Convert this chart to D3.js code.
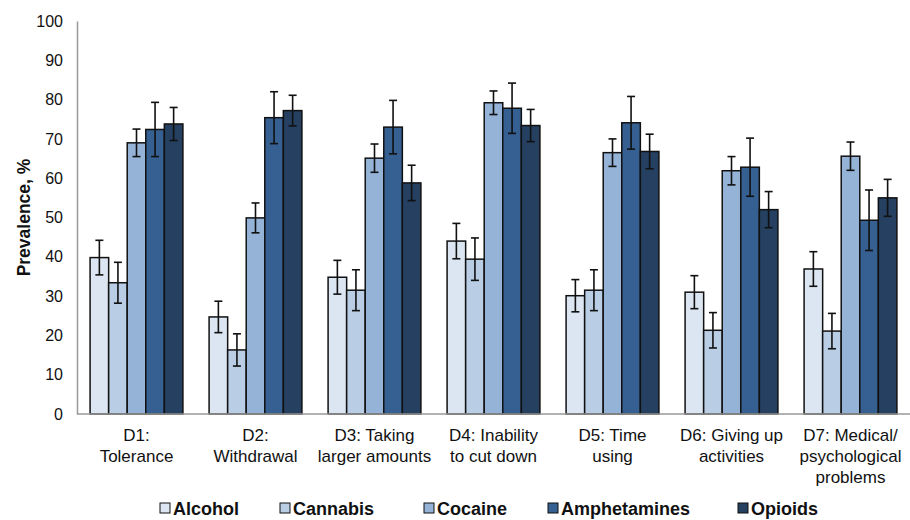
<!DOCTYPE html>
<html>
<head>
<meta charset="utf-8">
<script src="https://cdn.jsdelivr.net/npm/d3@7"></script>
<style>
	body { margin: 0; background: #fff; }
	svg text { font-family: "Liberation Sans", Arial, sans-serif; fill: #111; }
</style>
</head>
<body>
<svg id="chart" width="910" height="520"></svg>
<script>
// data
const categories = [
	['D1:', 'Tolerance'],
	['D2:', 'Withdrawal'],
	['D3: Taking', 'larger amounts'],
	['D4: Inability', 'to cut down'],
	['D5: Time', 'using'],
	['D6: Giving up', 'activities'],
	['D7: Medical/', 'psychological', 'problems']
];
const substances = ['Alcohol', 'Cannabis', 'Cocaine', 'Amphetamines', 'Opioids'];

// prevalence per substance, one value per criterion D1..D7
const alcohol      = [39.8, 24.7, 34.8, 44.0, 30.1, 31.0, 36.9];
const cannabis     = [33.4, 16.3, 31.5, 39.4, 31.5, 21.3, 21.1];
const cocaine      = [69.0, 49.9, 65.1, 79.2, 66.5, 61.9, 65.6];
const amphetamines = [72.4, 75.4, 73.0, 77.8, 74.1, 62.8, 49.3];
const opioids      = [73.8, 77.2, 58.8, 73.4, 66.8, 52.0, 55.0];

// half-width of the error bars
const alcoholErr      = [4.4, 4.0, 4.3, 4.5, 4.1, 4.2, 4.4];
const cannabisErr     = [5.2, 4.1, 5.2, 5.4, 5.2, 4.5, 4.5];
const cocaineErr      = [3.5, 3.8, 3.6, 3.0, 3.5, 3.6, 3.6];
const amphetaminesErr = [6.9, 6.6, 6.8, 6.4, 6.7, 7.4, 7.7];
const opioidsErr      = [4.2, 3.9, 4.5, 4.1, 4.4, 4.6, 4.7];

const yTicks = [0, 10, 20, 30, 40, 50, 60, 70, 80, 90, 100];

// configs
const COLORS = ['#dce6f2', '#b9cde5', '#95b3d7', '#376092', '#254061'];
const LEFT = 77, RIGHT = 910, TOP = 21, BOTTOM = 414;
const CAP_W = 8;
const LABEL_SIZE = '17px';

const values = [alcohol, cannabis, cocaine, amphetamines, opioids];
const errors = [alcoholErr, cannabisErr, cocaineErr, amphetaminesErr, opioidsErr];

const rows = [];
categories.forEach((c, ci) => {
	substances.forEach((s, si) => {
		rows.push({ cat: ci, sub: s, si: si, value: values[si][ci], err: errors[si][ci] });
	});
});

const svg = d3.select('#chart');

const x0 = d3.scaleBand()
	.domain(d3.range(categories.length))
	.range([LEFT, RIGHT])
	.paddingInner(0.22)
	.paddingOuter(0.11);

const x1 = d3.scaleBand()
	.domain(substances)
	.range([0, x0.bandwidth()]);

const y = d3.scaleLinear().domain([0, 100]).range([BOTTOM, TOP]);

// y axis
const yAxis = svg.append('g')
	.attr('transform', `translate(${LEFT},0)`)
	.call(d3.axisLeft(y).tickValues(yTicks).tickSize(0).tickPadding(14));
yAxis.select('.domain').attr('stroke', '#999').attr('stroke-width', 1.5);
yAxis.selectAll('text')
	.style('font-size', '16px')
	.style('font-family', '"Liberation Sans", Arial, sans-serif')
	.attr('fill', '#111');

svg.append('text')
	.attr('transform', `translate(30,${(TOP + BOTTOM) / 2}) rotate(-90)`)
	.attr('text-anchor', 'middle')
	.style('font-size', '17.5px')
	.style('font-weight', 'bold')
	.text('Prevalence, %');

// bars
const bars = svg.append('g');
bars.selectAll('rect')
	.data(rows)
	.enter()
	.append('rect')
	.attr('x', d => x0(d.cat) + x1(d.sub))
	.attr('y', d => y(d.value))
	.attr('width', x1.bandwidth())
	.attr('height', d => y(0) - y(d.value))
	.attr('fill', d => COLORS[d.si])
	.attr('stroke', '#111')
	.attr('stroke-width', 1.5);

// error bars
const errG = svg.append('g')
	.attr('stroke', '#111')
	.attr('stroke-width', 1.6);
rows.forEach(d => {
	const cx = x0(d.cat) + x1(d.sub) + x1.bandwidth() / 2;
	const y1 = y(d.value + d.err), y2 = y(d.value - d.err);
	errG.append('line').attr('x1', cx).attr('x2', cx).attr('y1', y1).attr('y2', y2);
	errG.append('line').attr('x1', cx - CAP_W / 2).attr('x2', cx + CAP_W / 2).attr('y1', y1).attr('y2', y1);
	errG.append('line').attr('x1', cx - CAP_W / 2).attr('x2', cx + CAP_W / 2).attr('y1', y2).attr('y2', y2);
});

// x axis baseline
svg.append('line')
	.attr('x1', LEFT).attr('x2', RIGHT)
	.attr('y1', y(0)).attr('y2', y(0))
	.attr('stroke', '#999')
	.attr('stroke-width', 1.5);

// category labels
const catLabels = svg.append('g');
categories.forEach((lines, ci) => {
	const t = catLabels.append('text')
		.attr('x', x0(ci) + x0.bandwidth() / 2)
		.attr('y', 441)
		.attr('text-anchor', 'middle')
		.style('font-size', LABEL_SIZE);
	lines.forEach((line, li) => {
		t.append('tspan')
			.attr('x', x0(ci) + x0.bandwidth() / 2)
			.attr('dy', li === 0 ? 0 : 21)
			.text(line);
	});
});

// legend (kept just inside the bottom edge)
const legendX = [160, 280, 424, 548, 738];
const legend = svg.append('g');
substances.forEach((s, si) => {
	legend.append('rect')
		.attr('x', legendX[si])
		.attr('y', 503)
		.attr('width', 10)
		.attr('height', 10)
		.attr('fill', COLORS[si])
		.attr('stroke', '#111')
		.attr('stroke-width', 1);
	legend.append('text')
		.attr('x', legendX[si] + 13)
		.attr('y', 515)
		.style('font-size', '18px')
		.style('font-weight', 'bold')
		.text(s);
});
</script>
</body>
</html>
